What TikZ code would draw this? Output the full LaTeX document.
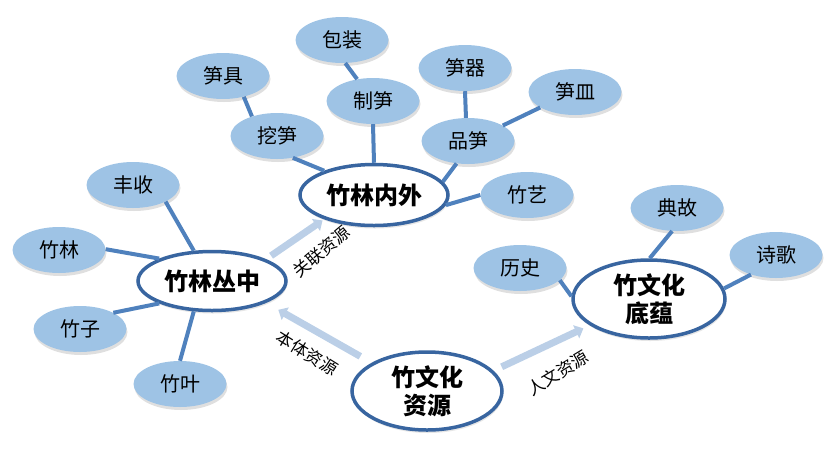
\documentclass[tikz,border=0pt]{standalone}
\usepackage{fontspec}
\setmainfont{Noto Sans CJK SC}
\usetikzlibrary{arrows.meta,shapes.geometric,shadows}

\definecolor{leafblue}{RGB}{158,195,229}
\definecolor{linkblue}{RGB}{79,129,189}
\definecolor{hubblue}{RGB}{56,101,160}
\definecolor{flowblue}{RGB}{187,207,231}

\begin{document}
\begin{tikzpicture}[x=1pt, y=-1pt,
        leaf/.style={ellipse, fill=leafblue, minimum width=93pt, minimum height=46pt, inner sep=0pt,
                font=\fontsize{20}{23}\selectfont,
                drop shadow={shadow xshift=1pt, shadow yshift=-3pt, opacity=0.25, fill=gray}},
        hub/.style={ellipse, draw=hubblue, line width=3.5pt, fill=white, inner sep=0pt, align=center,
                font=\fontsize{24}{28}\selectfont\bfseries,
                drop shadow={shadow xshift=1pt, shadow yshift=-3pt, opacity=0.2, fill=gray}},
        link/.style={draw=linkblue, line width=4pt},
        flow/.style={draw=flowblue, line width=7pt, -{Triangle[width=14pt,length=8pt]}},
        tag/.style={font=\fontsize{17}{20}\selectfont, inner sep=1pt}]
        \useasboundingbox (0,0) rectangle (834,448);

        % main nodes
        \node[hub, minimum width=148pt, minimum height=59pt] (congzhong) at (212,281) {竹林丛中};
        \node[hub, minimum width=148pt, minimum height=61pt] (neiwai) at (374,195) {竹林内外};
        \node[hub, minimum width=150pt, minimum height=78pt] (ziyuan) at (427,391) {竹文化\\资源};
        \node[hub, minimum width=152pt, minimum height=78pt] (diyun) at (649,299) {竹文化\\底蕴};

        % around congzhong
        \node[leaf] (fengshou) at (133,185) {丰收};
        \node[leaf] (zhulin) at (59,250) {竹林};
        \node[leaf] (zhuzi) at (80,329) {竹子};
        \node[leaf] (zhuye) at (180,384) {竹叶};

        % around neiwai
        \node[leaf] (wasun) at (277,136) {挖笋};
        \node[leaf] (sunju) at (223,76) {笋具};
        \node[leaf] (baozhuang) at (342,40) {包装};
        \node[leaf] (zhisun) at (373,101) {制笋};
        \node[leaf] (sunqi) at (465,68) {笋器};
        \node[leaf] (sunmin) at (575,92) {笋皿};
        \node[leaf] (pinsun) at (468,141) {品笋};
        \node[leaf] (zhuyi) at (527,195) {竹艺};

        % around diyun
        \node[leaf] (lishi) at (520,268) {历史};
        \node[leaf] (diangu) at (677,208) {典故};
        \node[leaf] (shige) at (776,255) {诗歌};

        \draw[link] (fengshou.-27) -- (congzhong.121);
        \draw[link] (zhulin.1) -- (congzhong.157);
        \draw[link] (zhuzi.26) -- (congzhong.203);
        \draw[link] (zhuye.90) -- (congzhong.239);

        \draw[link] (sunju.-45) -- (wasun.142);
        \draw[link] (wasun.-54) -- (neiwai.154);
        \draw[link] (baozhuang.-82) -- (zhisun.126);
        \draw[link] (zhisun.-90) -- (neiwai.90);
        \draw[link] (sunqi.-90) -- (pinsun.95);
        \draw[link] (sunmin.204) -- (pinsun.24);
        \draw[link] (pinsun.243) -- (neiwai.11);
        \draw[link] (zhuyi.180) -- (neiwai.-8);

        \draw[link] (lishi.-17) -- (diyun.178);
        \draw[link] (diangu.-102) -- (diyun.89);
        \draw[link] (shige.218) -- (diyun.8);

        % resource arrows
        \draw[flow, shorten <=13pt, shorten >=14pt] (ziyuan.153) -- (congzhong.-22);
        \draw[flow, shorten <=6pt, shorten >=2pt] (congzhong.22) -- (neiwai.206);
        \draw[flow, shorten <=9pt, shorten >=7pt] (ziyuan.17) -- (diyun.204);

        \node[tag, rotate=40] (guanlian) at (321,252) {关联资源};
        \node[tag, rotate=-32] (benti) at (307,353) {本体资源};
        \node[tag, rotate=31] (renwen) at (558,373) {人文资源};
\end{tikzpicture}
\end{document}
